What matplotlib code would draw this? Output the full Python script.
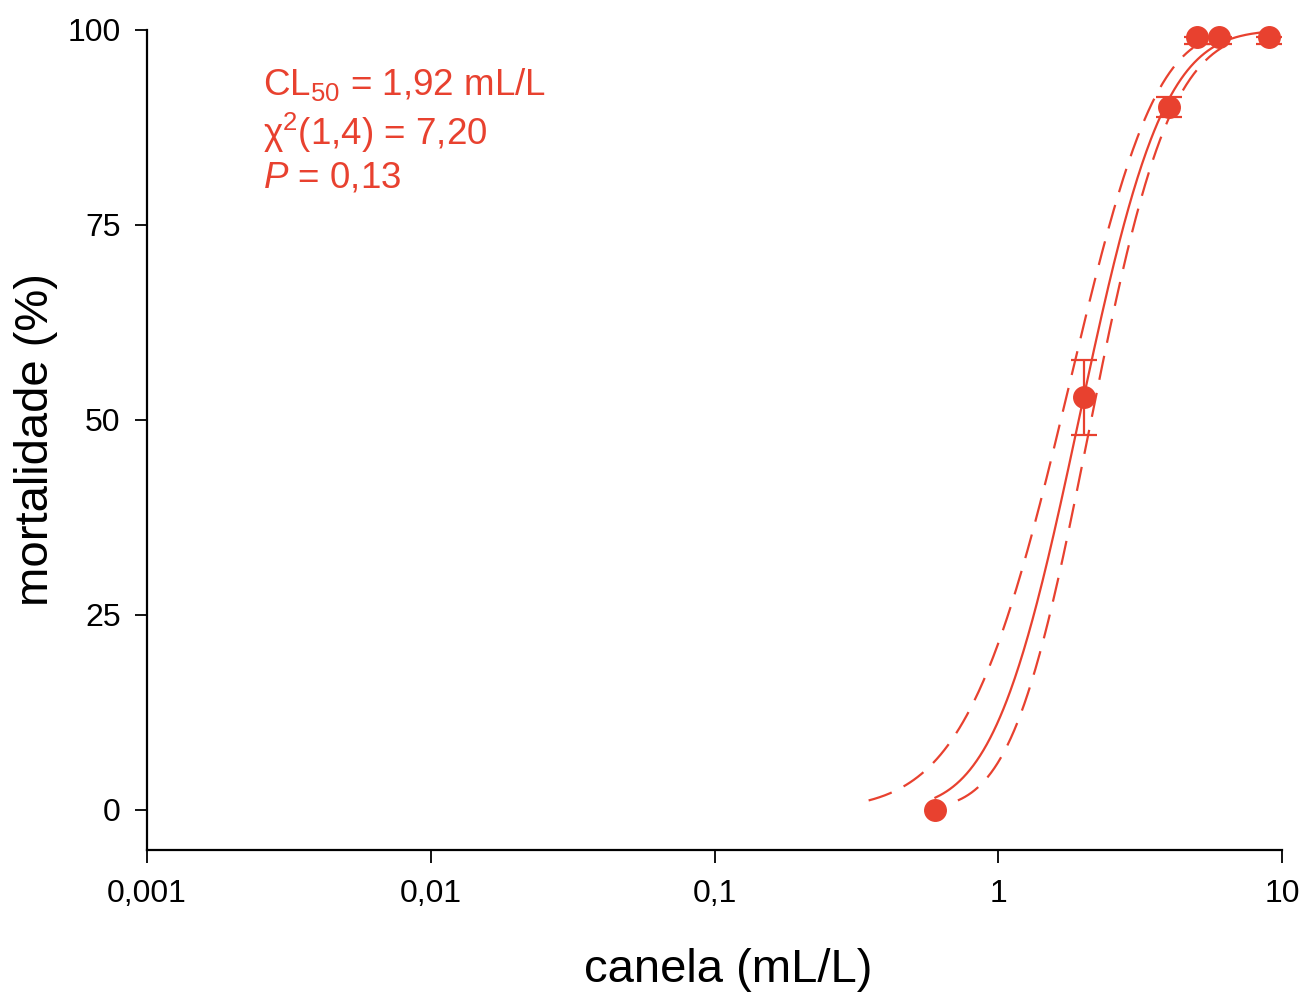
import math
import numpy as np
import matplotlib
matplotlib.use("Agg")
import matplotlib.pyplot as plt

plt.rcParams['font.family'] = ['Liberation Sans', 'DejaVu Sans']
plt.rcParams['mathtext.fontset'] = 'custom'
plt.rcParams['mathtext.rm'] = 'Liberation Sans'
plt.rcParams['mathtext.it'] = 'Liberation Sans:italic'

RED = '#e8412f'

# dose (mL/L), mortality (%) and its error (below / above the mean)
dose = [0.6, 2.0, 4.0, 5.0, 6.0, 9.0]
mort = [0.0, 52.9, 90.1, 99.1, 99.1, 99.1]
err_low = [0.0, 4.8, 1.3, 0.9, 0.9, 0.9]
err_high = [0.0, 4.8, 1.3, 0.0, 0.0, 0.0]

# probit fit: CL50 and slope on log10(dose)
cl50 = 1.92
probit_slope = 4.25
chi2, df1, df2, p_val = 7.20, 1, 4, 0.13

# fiducial limits: log10(dose) = a + b*z + c*z^2
lower_band = (0.220, 0.265, -0.016)
upper_band = (0.327, 0.220, 0.005)
band_z = (-2.25, 2.0)

xticks = [0.001, 0.01, 0.1, 1, 10]
xticklabels = ['0,001', '0,01', '0,1', '1', '10']
yticks = [0, 25, 50, 75, 100]

phi = np.vectorize(lambda z: 0.5 * (1 + math.erf(z / math.sqrt(2))))

fig = plt.figure(figsize=(13.07, 10), dpi=100)
ax = fig.add_axes([0.1125, 0.15, 0.8685, 0.82])

# fitted curve
xf = np.logspace(np.log10(dose[0]), np.log10(dose[-1]), 300)
zf = probit_slope * (np.log10(xf) - np.log10(cl50))
ax.plot(xf, 100 * phi(zf), color=RED, lw=1.6)

# confidence limits
zb = np.linspace(band_z[0], band_z[1], 300)
for a, b, c in (lower_band, upper_band):
    ax.plot(10 ** (a + b * zb + c * zb ** 2), 100 * phi(zb), color=RED,
            lw=1.6, dashes=(11, 6))

# error bars only where there is an error, upper cap left out at the top
for x, y, lo, hi in zip(dose, mort, err_low, err_high):
    if lo == 0 and hi == 0:
        continue
    ax.errorbar([x], [y], yerr=[[lo], [hi]], fmt='none', ecolor=RED,
                elinewidth=1.6, capsize=9.5, capthick=1.6, clip_on=False,
                zorder=4)
ax.plot(dose, mort, 'o', color=RED, ms=15.5, clip_on=False, zorder=5)

ax.set_xscale('log')
ax.set_xlim(0.001, 10)
ax.set_ylim(-5.13, 100)
ax.set_xticks(xticks)
ax.set_xticklabels(xticklabels)
ax.xaxis.set_minor_locator(matplotlib.ticker.NullLocator())
ax.set_yticks(yticks)

for s in ('top', 'right'):
    ax.spines[s].set_visible(False)
for s in ('left', 'bottom'):
    ax.spines[s].set_linewidth(1.6)
ax.tick_params(axis='x', length=9, width=1.3, labelsize=23, pad=12)
ax.tick_params(axis='y', length=9, width=1.3, labelsize=23, pad=10)

ax.set_xlabel('canela (mL/L)', fontsize=34)
ax.set_ylabel('mortalidade (%)', fontsize=34)
ax.xaxis.set_label_coords(0.512, -0.12)
ax.yaxis.set_label_coords(-0.078, 0.5)

fs = 26.5
ax.text(0.102, 0.9207, 'CL$_{50}$ = ' + f'{cl50:.2f} mL/L'.replace('.', ','),
        transform=ax.transAxes, color=RED, fontsize=fs, va='baseline')
ax.text(0.102, 0.8598, 'χ$^{2}$' + f'({df1},{df2}) = {chi2:.2f}'.replace('.', ','),
        transform=ax.transAxes, color=RED, fontsize=fs, va='baseline')
ax.text(0.102, 0.8085, '$\\mathit{P}$ = ' + f'{p_val:.2f}'.replace('.', ','),
        transform=ax.transAxes, color=RED, fontsize=fs, va='baseline')

fig.savefig('out.png', dpi=100)
